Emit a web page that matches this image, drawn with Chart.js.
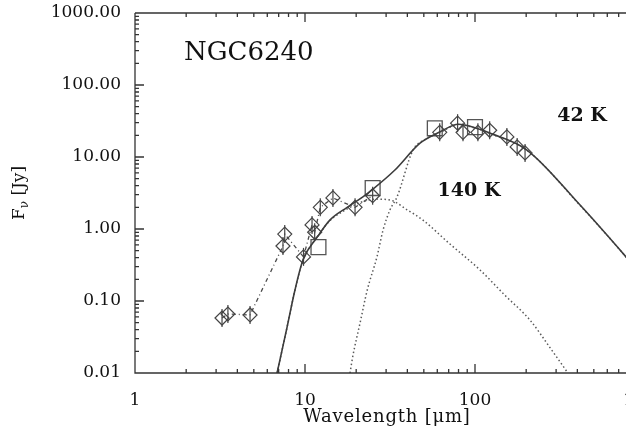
<!DOCTYPE html>
<html>
<head>
<meta charset="utf-8">
<script src="https://cdn.jsdelivr.net/npm/chart.js@4/dist/chart.umd.min.js"></script>
<style>
  html, body { margin: 0; padding: 0; background: #fff; overflow: hidden; }
  #wrap { width: 660px; height: 432px; }
</style>
</head>
<body>
<div id="wrap"><canvas id="sed" width="660" height="432"></canvas></div>
<script>
// photometry (diamonds), wavelength in micron / flux in Jy
var nirWave = [3.25, 3.52, 4.75, 7.42, 7.6, 9.8, 11.0, 11.4, 12.3, 14.6, 19.7, 25];
var nirFlux = [0.058, 0.066, 0.064, 0.58, 0.85, 0.41, 1.14, 0.9, 2.0, 2.7, 2.0, 2.9];
var firWave = [62, 79, 85, 104, 122, 154, 177, 197];
var firFlux = [22, 29.5, 22, 22, 23.5, 19, 13.8, 11.4];

// IRAS (squares)
var irasWave = [12, 25, 58, 100];
var irasFlux = [0.56, 3.7, 25, 26];

// two-temperature fit: total, 140 K and 42 K components
var fitWave = [6.85, 7.84, 8.73, 9.73, 11.8, 14.0, 17.7, 21.9, 24.8, 33.8, 47.5, 62, 80, 100, 122, 202, 415, 773, 1000];
var fitFlux = [0.01, 0.043, 0.142, 0.37, 0.77, 1.33, 2.0, 2.8, 3.5, 6.6, 15.6, 22.2, 28.5, 25.5, 21.5, 12.5, 2.15, 0.41, 0.2];
var warmWave = [6.85, 7.84, 8.73, 9.73, 11.8, 14.0, 17.7, 21.9, 26, 31.6, 40, 49.4, 70, 107, 150, 211, 280, 352];
var warmFlux = [0.01, 0.043, 0.142, 0.37, 0.77, 1.3, 1.9, 2.4, 2.6, 2.53, 1.84, 1.33, 0.64, 0.27, 0.12, 0.054, 0.0215, 0.01];
var coldWave = [18.4, 19.1, 21.1, 23.2, 26.5, 28.8, 31.6, 34.8, 43.2, 50.8, 62, 80, 100, 122, 202, 415, 773, 1000];
var coldFlux = [0.01, 0.017, 0.05, 0.14, 0.41, 0.97, 1.84, 2.8, 12.5, 17.5, 21.8, 28.2, 25.3, 21.3, 12.4, 2.13, 0.41, 0.2];

var xLabels = ['1', '10', '100', '1000'];
var yLabels = ['0.01', '0.10', '1.00', '10.00', '100.00', '1000.00'];

var ink = '#111';
var serif = '"DejaVu Serif", "Liberation Serif", serif';

function pts(xs, ys) {
    var out = [];
    for(let i=0; i<xs.length; i++) {
        out.push({x: xs[i], y: ys[i]});
    }
    return out;
}

function isDecade(v) {
    let l = Math.log10(v);
    return Math.abs(l - Math.round(l)) < 1e-6;
}

function logTicks(lo, hi) {
    let t = [];
    for(let e=lo; e<hi; e++) {
        for(let m=1; m<10; m++) {
            t.push({value: m*Math.pow(10, e)});
        }
    }
    t.push({value: Math.pow(10, hi)});
    return t;
}

// inward tick marks and the plot frame
var frameTicks = {
    id: 'frameTicks',
    afterDraw(chart) {
        let ctx = chart.ctx, a = chart.chartArea;
        let x = chart.scales.x, y = chart.scales.y;
        ctx.save();
        ctx.strokeStyle = '#333';
        ctx.lineWidth = 1.3;
        ctx.beginPath();
        ctx.moveTo(a.left, a.top); ctx.lineTo(a.right, a.top);
        ctx.lineTo(a.right, a.bottom); ctx.lineTo(a.left, a.bottom);
        ctx.lineTo(a.left, a.top);
        y.ticks.forEach(function(t) {
            let py = y.getPixelForValue(t.value);
            let len = isDecade(t.value) ? 9 : 4;
            ctx.moveTo(a.left, py); ctx.lineTo(a.left+len, py);
            ctx.moveTo(a.right, py); ctx.lineTo(a.right-len, py);
        });
        x.ticks.forEach(function(t) {
            let px = x.getPixelForValue(t.value);
            let len = isDecade(t.value) ? 9 : 4;
            ctx.moveTo(px, a.bottom); ctx.lineTo(px, a.bottom-len);
            ctx.moveTo(px, a.top); ctx.lineTo(px, a.top+len);
        });
        ctx.stroke();
        ctx.restore();
    }
};

// titles and annotations
var captions = {
    id: 'captions',
    afterDraw(chart) {
        let ctx = chart.ctx;
        ctx.save();
        ctx.fillStyle = ink;
        ctx.textBaseline = 'middle';

        ctx.textAlign = 'left';
        ctx.font = '26px ' + serif;
        ctx.fillText('NGC6240', 184, 53);

        ctx.textAlign = 'center';
        ctx.font = 'bold 19px ' + serif;
        ctx.fillText('42 K', 582, 116);
        ctx.fillText('140 K', 469, 191);

        ctx.font = '18px ' + serif;
        ctx.letterSpacing = '0.8px';
        ctx.fillText('Wavelength [\u03bcm]', 387, 417);
        ctx.letterSpacing = '0px';

        // F_nu [Jy], rotated
        ctx.translate(20, 193);
        ctx.rotate(-Math.PI/2);
        ctx.textAlign = 'left';
        ctx.font = '17px ' + serif;
        let wF = ctx.measureText('F').width;
        let wJ = ctx.measureText(' [Jy]').width;
        ctx.font = '12px ' + serif;
        let wN = ctx.measureText('\u03bd').width;
        let x0 = -(wF + wN + wJ)/2;
        ctx.font = '17px ' + serif;
        ctx.fillText('F', x0, 0);
        ctx.font = '12px ' + serif;
        ctx.fillText('\u03bd', x0+wF, 5);
        ctx.font = '17px ' + serif;
        ctx.fillText(' [Jy]', x0+wF+wN, 0);
        ctx.restore();
    }
};

var ctx = document.getElementById('sed').getContext('2d');
var sedchart = new Chart(ctx, {
    type: 'line',
    data: {
        datasets: [
            {
                label: 'fit',
                data: pts(fitWave, fitFlux),
                borderColor: '#3c3c3c',
                borderWidth: 1.6,
                pointRadius: 0,
                cubicInterpolationMode: 'monotone',
                fill: false
            },
            {
                label: '140 K',
                data: pts(warmWave, warmFlux),
                borderColor: '#5a5a5a',
                borderWidth: 1.5,
                borderDash: [1.5, 2.5],
                pointRadius: 0,
                cubicInterpolationMode: 'monotone',
                fill: false
            },
            {
                label: '42 K',
                data: pts(coldWave, coldFlux),
                borderColor: '#5a5a5a',
                borderWidth: 1.5,
                borderDash: [1.5, 2.5],
                pointRadius: 0,
                cubicInterpolationMode: 'monotone',
                fill: false
            },
            {
                label: 'near/mid IR',
                data: pts(nirWave, nirFlux),
                borderColor: '#4a4a4a',
                borderWidth: 1.3,
                borderDash: [4, 3, 1, 3],
                tension: 0,
                pointStyle: 'rectRot',
                pointRadius: 7,
                pointBorderWidth: 1.2,
                pointBorderColor: '#444',
                pointBackgroundColor: 'rgba(255,255,255,0)'
            },
            {
                label: 'far IR',
                data: pts(firWave, firFlux),
                showLine: false,
                pointStyle: 'rectRot',
                pointRadius: 7,
                pointBorderWidth: 1.2,
                pointBorderColor: '#444',
                pointBackgroundColor: 'rgba(255,255,255,0)'
            },
            {
                label: 'errors',
                data: pts(nirWave.concat(firWave), nirFlux.concat(firFlux)),
                showLine: false,
                pointStyle: 'line',
                rotation: 90,
                pointRadius: 9,
                pointBorderWidth: 1.2,
                pointBorderColor: '#444'
            },
            {
                label: 'IRAS',
                data: pts(irasWave, irasFlux),
                showLine: false,
                pointStyle: 'rect',
                pointRadius: 10.5,
                pointBorderWidth: 1.3,
                pointBorderColor: '#555',
                pointBackgroundColor: 'rgba(255,255,255,0)'
            }
        ]
    },
    options: {
        responsive: false,
        animation: false,
        devicePixelRatio: 1,
        layout: { padding: { top: 13, right: 15, left: 0, bottom: 0 } },
        plugins: { legend: { display: false }, tooltip: { enabled: false } },
        scales: {
            x: {
                type: 'logarithmic',
                min: 1,
                max: 1000,
                grid: { display: false, drawTicks: false },
                border: { display: false },
                afterBuildTicks: function(s) { s.ticks = logTicks(0, 3); },
                afterFit: function(s) { s.height = 59; s.paddingLeft = 0; s.paddingRight = 0; },
                ticks: {
                    autoSkip: false,
                    maxRotation: 0,
                    padding: 17,
                    color: ink,
                    font: { family: serif, size: 17 },
                    callback: function(v) {
                        return isDecade(v) ? xLabels[Math.round(Math.log10(v))] : '';
                    }
                }
            },
            y: {
                type: 'logarithmic',
                min: 0.01,
                max: 1000,
                grid: { display: false, drawTicks: false },
                border: { display: false },
                afterBuildTicks: function(s) { s.ticks = logTicks(-2, 3); },
                afterFit: function(s) { s.width = 135; s.paddingTop = 0; s.paddingBottom = 0; },
                ticks: {
                    autoSkip: false,
                    padding: 14,
                    color: ink,
                    font: { family: serif, size: 17 },
                    callback: function(v) {
                        return isDecade(v) ? yLabels[Math.round(Math.log10(v)) + 2] : '';
                    }
                }
            }
        }
    },
    plugins: [frameTicks, captions]
});
</script>
</body>
</html>
